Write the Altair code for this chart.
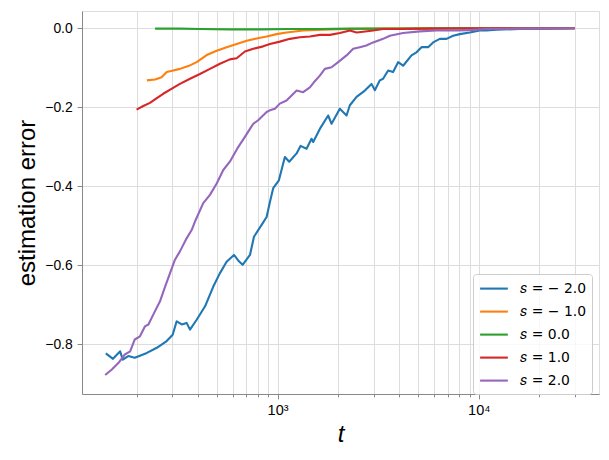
import altair as alt
import pandas as pd

# ---- data ----
labels = ["𝑠 = − 2.0", "𝑠 = − 1.0", "𝑠 = 0.0", "𝑠 = 1.0", "𝑠 = 2.0"]
colors = ["#1f77b4", "#ff7f0e", "#2ca02c", "#d62728", "#9467bd"]

t_m2 = [140, 152, 165, 170, 181, 195, 224, 251, 281, 301, 315, 334, 353, 367, 396, 436, 479, 517,
        558, 607, 637, 670, 729, 763, 833, 882, 916, 951, 1015, 1087, 1142, 1243, 1300, 1393, 1475,
        1503, 1622, 1784, 1855, 2039, 2202, 2287, 2469, 2715, 2931, 3044, 3224, 3346, 3544, 3752,
        3973, 4207, 4631, 4904, 5193, 5601, 5930, 6402, 6911, 7455, 8049, 9023, 10116, 10922,
        12246, 15983, 22530, 30000]
e_m2 = [-0.823, -0.837, -0.818, -0.839, -0.830, -0.834, -0.822, -0.809, -0.792, -0.776, -0.742,
        -0.750, -0.746, -0.763, -0.738, -0.704, -0.654, -0.620, -0.591, -0.574, -0.588, -0.599,
        -0.574, -0.528, -0.498, -0.478, -0.440, -0.405, -0.385, -0.326, -0.338, -0.317, -0.298,
        -0.305, -0.280, -0.288, -0.255, -0.221, -0.242, -0.204, -0.221, -0.195, -0.174, -0.158,
        -0.141, -0.157, -0.132, -0.128, -0.107, -0.111, -0.086, -0.095, -0.069, -0.061, -0.048,
        -0.048, -0.036, -0.027, -0.027, -0.019, -0.015, -0.011, -0.006, -0.006, -0.004, -0.002,
        -0.001, 0.000]

t_m1 = [224, 246, 265, 281, 303, 327, 360, 396, 444, 498, 558, 626, 702, 787, 882, 989, 1108,
        1340, 1685, 2202, 3400, 6500, 12700, 30000]
e_m1 = [-0.132, -0.130, -0.124, -0.111, -0.107, -0.103, -0.096, -0.086, -0.068, -0.057, -0.048,
        -0.040, -0.032, -0.026, -0.021, -0.015, -0.011, -0.006, -0.004, -0.002, -0.001, 0.0, 0.0, 0.0]

t_0 = [246, 327, 411, 579, 817, 1151, 1622, 2287, 4052, 7178, 12718, 30000]
e_0 = [-0.001, -0.001, -0.002, -0.003, -0.003, -0.002, -0.002, -0.001, -0.001, 0.0, 0.0, 0.0]

t_p1 = [199, 215, 232, 251, 270, 298, 327, 367, 411, 461, 517, 579, 626, 688, 757, 848, 916, 1026,
        1151, 1291, 1447, 1622, 1819, 2039, 2287, 2469, 2663, 2985, 3346, 4052, 5709, 12718, 30000]
e_p1 = [-0.206, -0.197, -0.189, -0.177, -0.166, -0.153, -0.141, -0.128, -0.116, -0.103, -0.090,
        -0.079, -0.076, -0.059, -0.052, -0.046, -0.040, -0.034, -0.027, -0.023, -0.021, -0.017,
        -0.017, -0.012, -0.006, -0.011, -0.009, -0.006, -0.002, -0.002, -0.001, 0.0, 0.0]

t_p2 = [139, 150, 162, 174, 185, 195, 207, 219, 228, 241, 260, 276, 292, 309, 327, 353, 374, 388,
        427, 461, 498, 537, 579, 637, 688, 729, 757, 801, 815, 882, 916, 970, 1026, 1108, 1219,
        1243, 1340, 1447, 1515, 1622, 1718, 1855, 2000, 2202, 2375, 2564, 2761, 2985, 3224, 3346,
        3614, 4207, 5093, 6166, 7749, 9023, 10922, 15983, 30000]
e_p2 = [-0.878, -0.864, -0.847, -0.826, -0.818, -0.788, -0.780, -0.755, -0.750, -0.725, -0.692,
        -0.654, -0.620, -0.586, -0.565, -0.532, -0.511, -0.490, -0.443, -0.422, -0.393, -0.359,
        -0.338, -0.301, -0.275, -0.255, -0.242, -0.233, -0.229, -0.212, -0.208, -0.204, -0.191,
        -0.183, -0.162, -0.158, -0.162, -0.150, -0.137, -0.120, -0.103, -0.099, -0.086, -0.069,
        -0.052, -0.048, -0.044, -0.036, -0.030, -0.027, -0.019, -0.012, -0.008, -0.006, -0.006,
        -0.005, -0.002, -0.001, 0.000]

x_ticks = [200, 300, 400, 500, 600, 700, 800, 900, 1000, 2000, 3000, 4000, 5000, 6000, 7000,
           8000, 9000, 10000, 20000, 30000]
y_ticks = [-0.8, -0.6, -0.4, -0.2, 0.0]

series = [(t_m2, e_m2), (t_m1, e_m1), (t_0, e_0), (t_p1, e_p1), (t_p2, e_p2)]
rows = []
for i, (ts, es) in enumerate(series):
    for t, e in zip(ts, es):
        rows.append({"t": t, "err": e, "s": labels[i], "k": i})
df = pd.DataFrame(rows)

FONT = "DejaVu Sans"
TITLE_SIZE = 24
TICK_SIZE = 13.9

chart = alt.Chart(df).mark_line(strokeWidth=2.1, strokeJoin="round").encode(
    x=alt.X("t:Q",
            scale=alt.Scale(type="log", domain=[106.6, 39600], nice=False),
            axis=alt.Axis(values=x_ticks,
                          labelExpr="datum.value == 1000 ? '10³' : (datum.value == 10000 ? '10⁴' : '')",
                          tickSize={"condition": {"test": "datum.value == 1000 || datum.value == 10000",
                                                  "value": 4.9}, "value": 2.8},
                          labelPadding=4.9, labelFontSize=14.5,
                          title="t", titleFontStyle="italic", titleFontSize=TITLE_SIZE,
                          titleFontWeight="normal", titlePadding=5)),
    y=alt.Y("err:Q",
            scale=alt.Scale(domain=[-0.926, 0.0435], nice=False, zero=False),
            axis=alt.Axis(values=y_ticks, format=".1f", tickSize=4.9, labelPadding=4.9,
                          labelFontSize=TICK_SIZE, title="estimation error",
                          titleFontSize=TITLE_SIZE, titleBaseline="alphabetic",
                          titleFontWeight="normal", titlePadding=10)),
    color=alt.Color("s:N",
                    scale=alt.Scale(domain=labels, range=colors),
                    legend=alt.Legend(orient="none", legendX=391, legendY=263, title=None,
                                      symbolType="M-1,0H2.7", symbolSize=225,
                                      symbolStrokeWidth=2.1, labelFontSize=13.9,
                                      labelFont=FONT, labelColor="black",
                                      labelOffset=23.8, rowPadding=7, padding=5.6,
                                      strokeColor="#cccccc", fillColor="rgba(255,255,255,0.8)",
                                      cornerRadius=3)),
    order=alt.Order("k:Q"),
    detail="k:N",
).properties(
    width=517, height=383,
    autosize=alt.AutoSizeParams(type="none"),
    padding={"left": 74, "top": 3, "right": 2, "bottom": 56},
).configure_axis(
    labelFont=FONT, titleFont=FONT, labelColor="black", titleColor="black",
    tickColor="black", tickWidth=1.1, gridColor="#b0b0b0", gridWidth=1.1, domain=False,
    grid=True,
).configure_view(
    stroke="black", strokeWidth=1.1,
).configure(background="white")

chart.save("out.html", embed_options={"renderer": "svg", "actions": False})
